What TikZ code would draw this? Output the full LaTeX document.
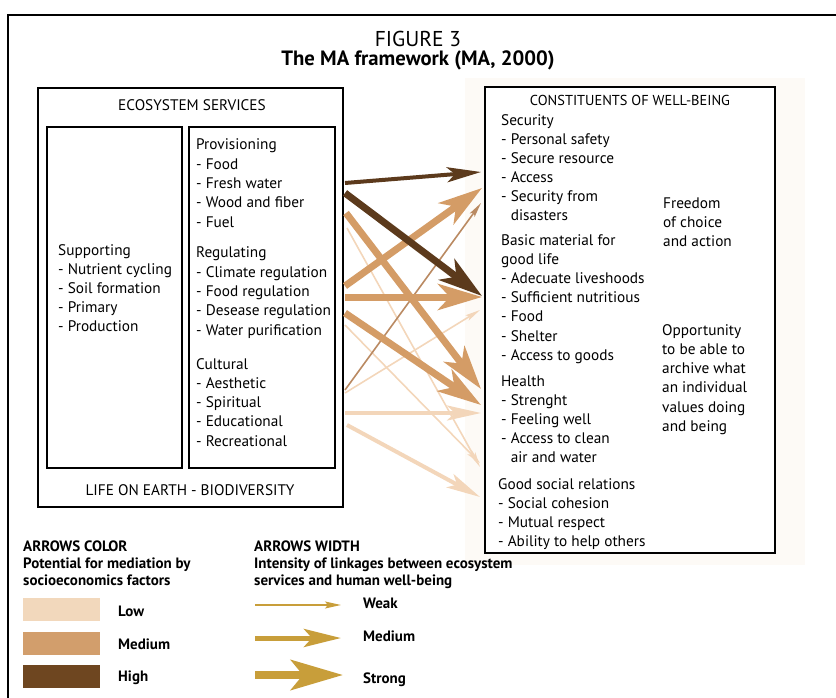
\documentclass[tikz,border=0pt]{standalone}
\usepackage{fontspec}
\setmainfont{PT Sans}
\usetikzlibrary{arrows.meta,fit}
\definecolor{hi}{RGB}{92,58,28}
\definecolor{me}{RGB}{212,156,102}
\definecolor{mebr}{RGB}{186,138,98}
\definecolor{lo}{RGB}{243,214,186}
\definecolor{swlo}{RGB}{242,216,188}
\definecolor{swme}{RGB}{210,158,108}
\definecolor{swhi}{RGB}{110,70,32}
\definecolor{gold}{RGB}{200,158,58}
\definecolor{faintbg}{RGB}{253,250,246}
\begin{document}
\begin{tikzpicture}[x=1pt,y=-1pt,
  txt/.style={anchor=base west, inner sep=0pt, font=\fontsize{15.3}{18}\selectfont},
  ctxt/.style={anchor=base, inner sep=0pt, font=\fontsize{15.3}{18}\selectfont},
  lgd/.style={anchor=base west, inner sep=0pt, font=\fontsize{15}{17}\selectfont\bfseries},
  boxed/.style={draw, line width=1.3pt, inner sep=0pt},
  weak/.style={line width=1.6pt, -{Stealth[length=15pt,width=6pt,inset=3pt]}},
  medium/.style={line width=4pt, -{Stealth[length=34pt,width=15pt,inset=8pt]}},
  strong/.style={line width=7pt, -{Stealth[length=44pt,width=26pt,inset=12pt]}},
  lweak/.style={line width=1.6pt, -{Stealth[length=16pt,width=7pt,inset=3pt]}},
  lmedium/.style={line width=5pt, -{Stealth[length=37pt,width=18pt,inset=8pt]}},
  lstrong/.style={line width=8pt, -{Stealth[length=52pt,width=30pt,inset=12pt]}}
]
\useasboundingbox (0,0) rectangle (836,698);
% outer frame
\draw[line width=1.8pt] (8,705) -- (8,15) -- (845,15);
% faint shading behind well-being box
\fill[faintbg] (465,78) rectangle (805,565);
% titles
\node[anchor=base, inner sep=0pt, font=\fontsize{21.5}{24}\selectfont] (fig) at (418,47) {FIGURE 3};
\node[anchor=base, inner sep=0pt, font=\fontsize{20.7}{24}\selectfont\bfseries] (title) at (418,66) {The MA framework (MA, 2000)};
% ecosystem boxes
\coordinate (eco-nw) at (38,88); \coordinate (eco-se) at (343,507);
\node[boxed, fit=(eco-nw)(eco-se)] (eco) {};
\coordinate (sup-nw) at (47,127); \coordinate (sup-se) at (182,468);
\node[boxed, fit=(sup-nw)(sup-se)] (sup) {};
\coordinate (prv-nw) at (189,127); \coordinate (prv-se) at (335,468);
\node[boxed, fit=(prv-nw)(prv-se)] (prv) {};
\node[ctxt] (ecohead) at (192,111) {ECOSYSTEM SERVICES};
\node[ctxt] (life) at (190,495) {LIFE ON EARTH - BIODIVERSITY};
% well-being box
\coordinate (wb-nw) at (485,87); \coordinate (wb-se) at (775,553);
\node[boxed, fill=white, fit=(wb-nw)(wb-se)] (wb) {};
\node[ctxt, font=\fontsize{14.4}{18}\selectfont] (wbhead) at (630,106) {CONSTITUENTS OF WELL-BEING};
% lists
\foreach \t [count=\i] in {Supporting,- Nutrient cycling,- Soil formation,- Primary,- Production}
  \node[txt] (sup\i) at (58,{255+(\i-1)*19.2}) {\t};
\foreach \t [count=\i] in {Provisioning,- Food,- Fresh water,- Wood and fiber,- Fuel}
  \node[txt] (prov\i) at (196,{150+(\i-1)*19.3}) {\t};
\foreach \t [count=\i] in {Regulating,- Climate regulation,- Food regulation,- Desease regulation,- Water purification}
  \node[txt] (reg\i) at (196,{258+(\i-1)*19.3}) {\t};
\foreach \t [count=\i] in {Cultural,- Aesthetic,- Spiritual,- Educational,- Recreational}
  \node[txt] (cult\i) at (196,{369+(\i-1)*19.3}) {\t};
\foreach \t [count=\i] in {Security,- Personal safety,- Secure resource,- Access,- Security from,\hphantom{-}\ disasters}
  \node[txt] (sec\i) at (501,{126+(\i-1)*19}) {\t};
\foreach \t [count=\i] in {Basic material for,good life,- Adecuate liveshoods,- Sufficient nutritious,- Food,- Shelter,- Access to goods}
  \node[txt] (bas\i) at (501,{245+(\i-1)*19.2}) {\t};
\foreach \t [count=\i] in {Health,- Strenght,- Feeling well,- Access to clean,\hphantom{-}\ air and water}
  \node[txt] (hea\i) at (501,{386+(\i-1)*19.2}) {\t};
\foreach \t [count=\i] in {Good social relations,- Social cohesion,- Mutual respect,- Ability to help others}
  \node[txt] (soc\i) at (498,{489+(\i-1)*19}) {\t};
\foreach \t [count=\i] in {Freedom,of choice,and action}
  \node[txt] (free\i) at (663,{208+(\i-1)*19.5}) {\t};
\foreach \t [count=\i] in {Opportunity,to be able to,archive what,an individual,values doing,and being}
  \node[txt] (opp\i) at (662,{335+(\i-1)*19.3}) {\t};
% arrow end points
\coordinate (s1) at (345,183); \coordinate (e1) at (481,172);
\coordinate (s2) at (345,193); \coordinate (e2) at (482,296);
\coordinate (s3) at (346,213); \coordinate (e3) at (481,389);
\coordinate (s4) at (347,228); \coordinate (e4) at (480,467);
\coordinate (s5) at (345,286); \coordinate (e5) at (482,188);
\coordinate (s6) at (345,297); \coordinate (e6) at (482,297);
\coordinate (s7) at (345,313); \coordinate (e7) at (481,405);
\coordinate (s8) at (345,325); \coordinate (e8) at (480,463);
\coordinate (s9) at (345,390); \coordinate (e9) at (481,203);
\coordinate (s10) at (345,393); \coordinate (e10) at (480,310);
\coordinate (s11) at (345,413); \coordinate (e11) at (481,413);
\coordinate (s12) at (347,425); \coordinate (e12) at (480,497);
% arrows: light first
\draw[weak, lo] (s4) -- (e4);
\draw[weak, lo] (s8) -- (e8);
\draw[weak, lo] (s10) -- (e10);
\draw[medium, lo] (s11) -- (e11);
\draw[medium, lo] (s12) -- (e12);
\draw[weak, mebr] (s9) -- (e9);
\draw[strong, me] (s7) -- (e7);
\draw[strong, me] (s3) -- (e3);
\draw[strong, me] (s5) -- (e5);
\draw[strong, me] (s6) -- (e6);
\draw[strong, hi] (s2) -- (e2);
\draw[medium, hi] (s1) -- (e1);
% legend: colours
\node[lgd] (lc1) at (23,551) {ARROWS COLOR};
\node[lgd] (lc2) at (23,568) {Potential for mediation by};
\node[lgd] (lc3) at (23,585) {socioeconomics factors};
\node[fill=swlo, minimum width=77pt, minimum height=23pt, inner sep=0pt] (swl) at (61.5,609.5) {};
\node[fill=swme, minimum width=77pt, minimum height=23pt, inner sep=0pt] (swm) at (61.5,643) {};
\node[fill=swhi, minimum width=77pt, minimum height=23pt, inner sep=0pt] (swh) at (61.5,676) {};
\node[lgd] (lowt) at (118,616) {Low};
\node[lgd] (medt) at (118,649) {Medium};
\node[lgd] (hight) at (118,681) {High};
% legend: widths
\node[lgd] (lw1) at (254,551) {ARROWS WIDTH};
\node[lgd] (lw2) at (254,568) {Intensity of linkages between ecosystem};
\node[lgd] (lw3) at (254,585) {services and human well-being};
\coordinate (lws) at (255,605); \coordinate (lwe) at (341,605);
\coordinate (lms) at (255,638); \coordinate (lme) at (341,638);
\coordinate (lss) at (255,675); \coordinate (lse) at (343,675);
\draw[lweak, gold] (lws) -- (lwe);
\draw[lmedium, gold] (lms) -- (lme);
\draw[lstrong, gold] (lss) -- (lse);
\node[lgd] (weakt) at (363,608) {Weak};
\node[lgd] (medwt) at (363,641) {Medium};
\node[lgd] (strt) at (363,683) {Strong};
\end{tikzpicture}
\end{document}
